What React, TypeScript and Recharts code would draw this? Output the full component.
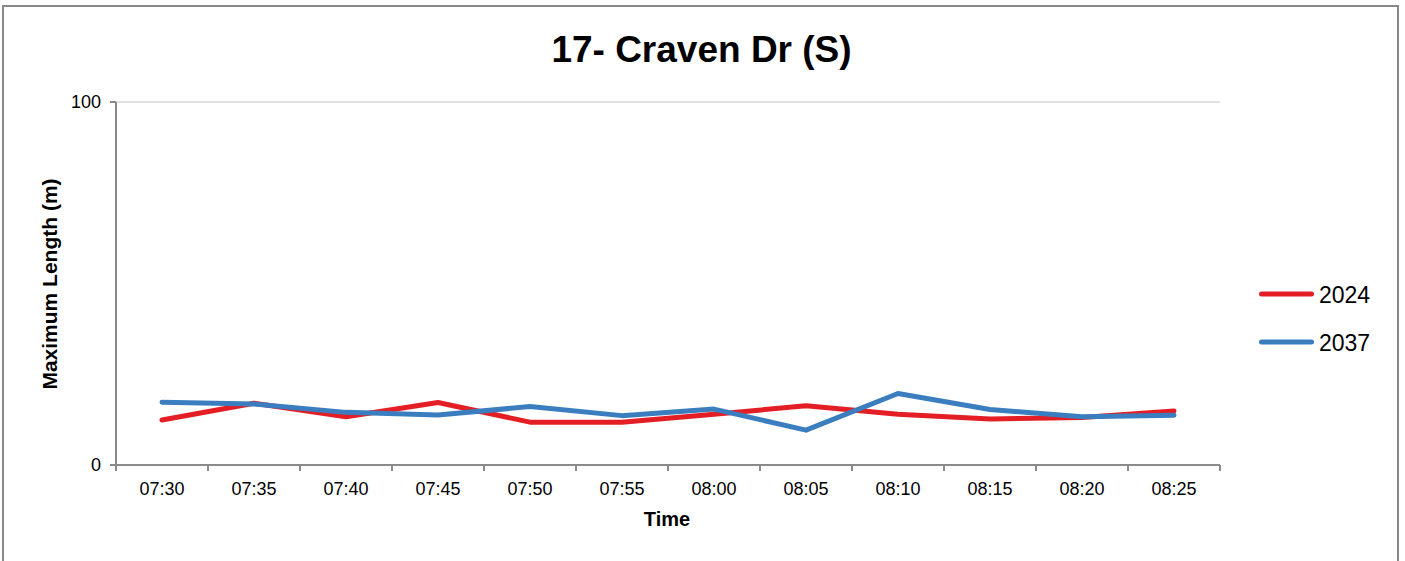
import { LineChart, Line, XAxis, YAxis, CartesianGrid, Legend } from 'recharts';

const times = ['07:30', '07:35', '07:40', '07:45', '07:50', '07:55', '08:00', '08:05', '08:10', '08:15', '08:20', '08:25'];
const len2024 = [12.4, 17.0, 13.3, 17.2, 11.8, 11.8, 14.0, 16.3, 14.0, 12.7, 13.1, 14.9];
const len2037 = [17.3, 16.8, 14.5, 13.8, 16.1, 13.6, 15.4, 9.6, 19.7, 15.3, 13.3, 13.7];
const yTicks = [0, 100];

const W = 1405;
const H = 561;
const PLOT_LEFT = 116;
const PLOT_RIGHT = 1220;
const PLOT_TOP = 102;
const PLOT_BOTTOM = 465;
const Y_AXIS_W = 60;
const X_AXIS_H = 40;
const LEGEND_W = 130; // legend box on the right is added to the right offset
const HALF_BAND = (PLOT_RIGHT - PLOT_LEFT) / times.length / 2;

const AXIS = '#8a8a8a';
const RED = '#E41E25';
const BLUE = '#3B7EBF';
const FONT = '"Liberation Sans", Arial, sans-serif';

const data = times.map((t, i) => ({ time: t, y2024: len2024[i], y2037: len2037[i] }));

// Excel style: labels centred in each band, tick marks on the band edges
function TimeTick(props: any) {
  const { x, y, index, payload } = props;
  const last = index === times.length - 1;
  return (
    <g>
      <line x1={x - HALF_BAND} x2={x - HALF_BAND} y1={y} y2={y + 6} stroke={AXIS} strokeWidth={2} />
      {last && <line x1={x + HALF_BAND} x2={x + HALF_BAND} y1={y} y2={y + 6} stroke={AXIS} strokeWidth={2} />}
      <text x={x} y={y + 30} textAnchor="middle" fontSize={18} fontFamily={FONT} fill="#000">
        {payload.value}
      </text>
    </g>
  );
}

function SideLegend(props: any) {
  const items = props.payload || [];
  return (
    <svg width={LEGEND_W} height={90} style={{ display: 'block' }}>
      {items.map((it: any, i: number) => (
        <g key={it.value}>
          <line x1={2.5} x2={52.5} y1={14 + i * 48} y2={14 + i * 48} stroke={it.color} strokeWidth={5} strokeLinecap="round" />
          <text x={60} y={14 + i * 48 + 8.5} fontSize={23} fontFamily={FONT} fill="#000">
            {it.value}
          </text>
        </g>
      ))}
    </svg>
  );
}

export default function App() {
  return (
    <div style={{ position: 'absolute', left: 0, top: 0, width: W, height: H, background: '#fff', overflow: 'hidden' }}>
      <div
        style={{
          position: 'absolute',
          left: 2,
          top: 5,
          width: 1397,
          height: 600,
          border: '2px solid #888',
          boxSizing: 'border-box',
        }}
      />
      <div style={{ position: 'absolute', left: 0, top: 0 }}>
        <LineChart
          width={W}
          height={H}
          data={data}
          margin={{
            top: PLOT_TOP,
            right: W - PLOT_RIGHT - LEGEND_W,
            left: PLOT_LEFT - Y_AXIS_W,
            bottom: H - PLOT_BOTTOM - X_AXIS_H,
          }}
        >
          <CartesianGrid vertical={false} stroke="#d9d9d9" strokeWidth={1.5} />
          <XAxis
            dataKey="time"
            height={X_AXIS_H}
            padding={{ left: HALF_BAND, right: HALF_BAND }}
            interval={0}
            tickSize={0}
            tickMargin={0}
            tickLine={false}
            axisLine={{ stroke: AXIS, strokeWidth: 2 }}
            tick={<TimeTick />}
          />
          <YAxis
            width={Y_AXIS_W}
            domain={[0, 100]}
            ticks={yTicks}
            interval={0}
            tickSize={6}
            tickMargin={9}
            axisLine={{ stroke: AXIS, strokeWidth: 2 }}
            tickLine={{ stroke: AXIS, strokeWidth: 2 }}
            tick={{ fontSize: 18, fontFamily: FONT, fill: '#000' }}
          />
          <Legend
            layout="vertical"
            align="right"
            verticalAlign="middle"
            content={<SideLegend />}
            wrapperStyle={{ position: 'absolute', left: 1259, top: 280, width: LEGEND_W, height: 90 }}
          />
          <Line
            name="2024"
            dataKey="y2024"
            stroke={RED}
            strokeWidth={5}
            dot={false}
            strokeLinejoin="round"
            strokeLinecap="round"
            isAnimationActive={false}
          />
          <Line
            name="2037"
            dataKey="y2037"
            stroke={BLUE}
            strokeWidth={5}
            dot={false}
            strokeLinejoin="round"
            strokeLinecap="round"
            isAnimationActive={false}
          />
        </LineChart>
      </div>
      <svg width={W} height={H} style={{ position: 'absolute', left: 0, top: 0, pointerEvents: 'none' }}>
        <text x={701.5} y={62} textAnchor="middle" fontSize={37} fontWeight="bold" fontFamily={FONT} fill="#000">
          17- Craven Dr (S)
        </text>
        <text x={667} y={526} textAnchor="middle" fontSize={20} fontWeight="bold" fontFamily={FONT} fill="#000">
          Time
        </text>
        <text
          x={57}
          y={284}
          transform="rotate(-90 57 284)"
          textAnchor="middle"
          fontSize={21}
          fontWeight="bold"
          fontFamily={FONT}
          fill="#000"
        >
          Maximum Length (m)
        </text>
      </svg>
    </div>
  );
}
